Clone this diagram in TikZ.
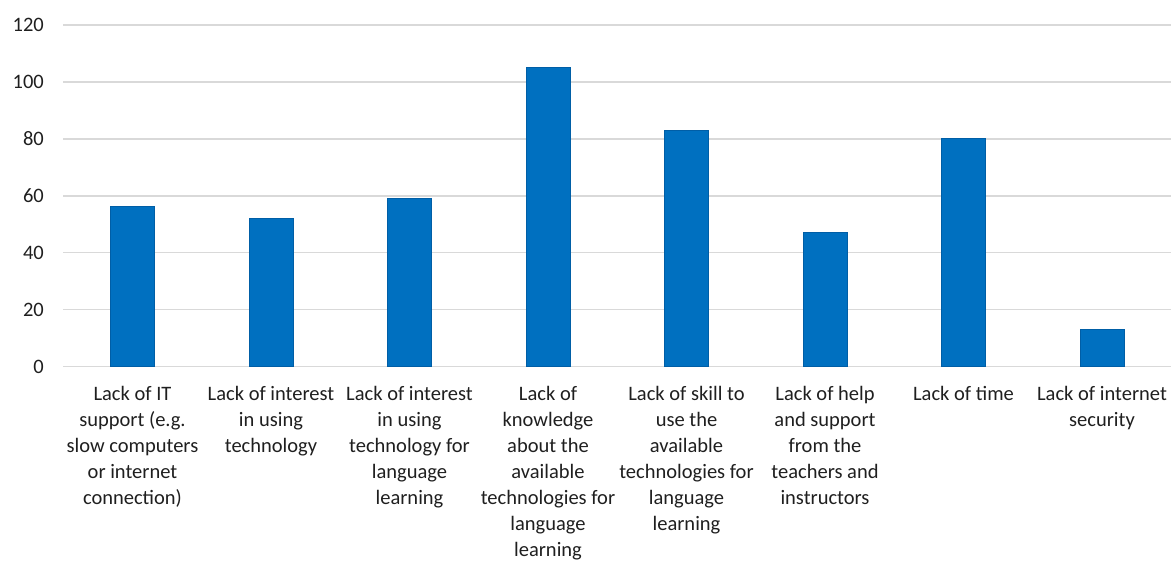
\documentclass[tikz,border=0pt]{standalone}
\usepackage{fontspec}
\setmainfont{Carlito}
\definecolor{barblue}{HTML}{0070C0}
\definecolor{baredge}{HTML}{005EA6}
\definecolor{gridgray}{HTML}{D9D9D9}
\definecolor{txt}{HTML}{1F1F1F}
\begin{document}
\begin{tikzpicture}[x=1pt,y=-1pt,
  gridline/.style={draw=gridgray,line width=1.4pt},
  ticklab/.style={anchor=east,inner sep=0pt,font=\fontsize{20.5}{26}\selectfont,text=txt},
  catlab/.style={anchor=north,inner sep=0pt,align=center,font=\fontsize{20.5}{26}\selectfont,text=txt},
  barbox/.style={draw=baredge,fill=barblue,line width=0.8pt,minimum width=44pt,inner sep=0pt,anchor=south}]
\useasboundingbox (0,0) rectangle (1171,561);
% gridlines and tick labels
\foreach \v/\n in {0/g0,20/g20,40/g40,60/g60,80/g80,100/g100,120/g120}{
  \coordinate (\n L) at (63,{366.7-\v*2.8475});
  \coordinate (\n R) at (1171,{366.7-\v*2.8475});
  \draw[gridline] (\n L) -- (\n R);
  \node[ticklab] (t\n) at (44,{366.7-\v*2.8475}) {\v};
}
% bars
\foreach \i/\val in {1/56,2/52,3/59,4/105,5/83,6/47,7/80,8/13}{
  \node[barbox,minimum height={\val*2.8475pt}] (b\i) at ({132.5+138.5*(\i-1)},366.7) {};
}
% category labels
\node[catlab] (c1) at (132.5,386.5) {Lack of IT\\support (e.g.\\slow computers\\or internet\\connection)};
\node[catlab] (c2) at (271,386.5) {Lack of interest\\in using\\technology};
\node[catlab] (c3) at (409.5,386.5) {Lack of interest\\in using\\technology for\\language\\learning};
\node[catlab] (c4) at (548,386.5) {Lack of\\knowledge\\about the\\available\\technologies for\\language\\learning};
\node[catlab] (c5) at (686.5,386.5) {Lack of skill to\\use the\\available\\technologies for\\language\\learning};
\node[catlab] (c6) at (825,386.5) {Lack of help\\and support\\from the\\teachers and\\instructors};
\node[catlab] (c7) at (963.5,386.5) {Lack of time};
\node[catlab] (c8) at (1102,386.5) {Lack of internet\\security};
\end{tikzpicture}
\end{document}
